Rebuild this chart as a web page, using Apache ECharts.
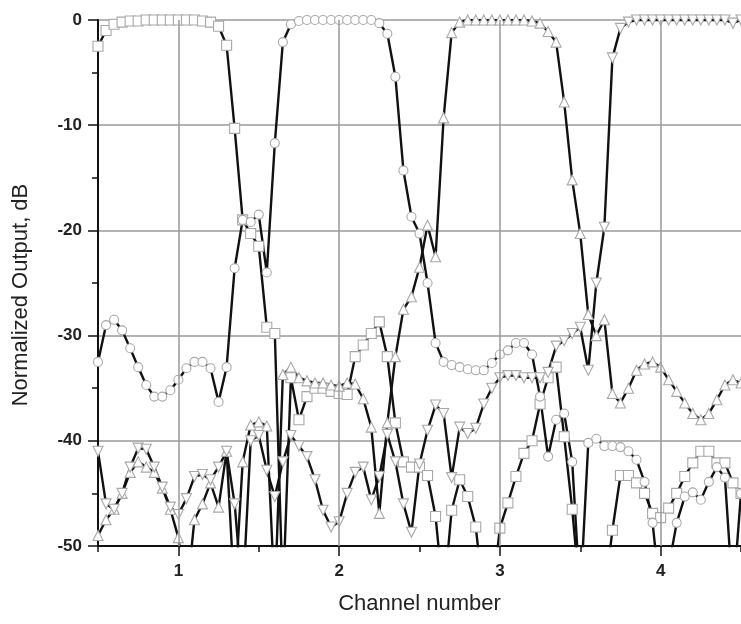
<!DOCTYPE html>
<html><head><meta charset="utf-8">
<script src="https://cdn.jsdelivr.net/npm/echarts@6/dist/echarts.min.js"></script>
<style>html,body{margin:0;padding:0;background:#fff}#c{width:741px;height:624px}</style>
</head><body><div id="c"></div>
<script>
// x sampling grid: channel number from 0.5 to 4.5, step 0.05
const xStart = 0.5, xStep = 0.05;

// Channel 1 (squares)
const ch1Square = [
 -2.5,-1.0,-0.4,-0.2,-0.1,-0.1,0,0,0,0,
 0,0,0,-0.1,-0.2,-0.6,-2.4,-10.3,-19.0,-20.3,
 -21.5,-29.2,-29.8,-55,-34,-38,-35.8,-35,-35,-35.3,
 -35.5,-35.6,-32,-30.9,-29.8,-28.7,-32,-38.3,-42,-42.5,
 -42.5,-43.3,-47.2,-55,-46.6,-43.7,-45.3,-48.2,-55,-55,
 -48.3,-45.9,-43.4,-41.2,-40,-36.5,-34,-33,-39.6,-46.5,
 -55,-55,-55,-55,-48.5,-43.3,-43.3,-44,-45,-46.9,
 -47.3,-46.4,-45,-43.4,-42.1,-41,-41,-42.1,-42.1,-44,
 -45
];
// Channel 2 (circles)
const ch2Circle = [
 -32.5,-29,-28.5,-29.5,-31.2,-33,-34.7,-35.8,-35.8,-35.2,
 -34.2,-33.1,-32.5,-32.5,-33.1,-36.3,-33,-23.6,-19,-19.2,
 -18.5,-24,-11.7,-2.1,-0.4,-0.1,0,0,0,0,
 0,0,0,0,0,-0.3,-1.3,-5.4,-14.3,-18.7,
 -20.3,-25,-30.7,-32.5,-32.8,-33,-33.2,-33.3,-33.3,-32.6,
 -31.8,-31.4,-30.7,-30.7,-31.8,-35.8,-41.5,-38,-37.4,-42,
 -55,-40.2,-39.8,-40.5,-40.5,-40.6,-41,-41.8,-43.9,-47.8,
 -55,-52,-47.8,-45.3,-44.9,-45.6,-43.9,-42.5,-43.5,-55,
 -45
];
// Channel 3 (triangles up)
const ch3TriUp = [
 -49,-47.5,-46.5,-45,-43,-42,-42.5,-43,-44.5,-46.5,
 -49.2,-55,-47.5,-46,-44,-46.3,-41,-55,-42,-38.5,
 -38.2,-38.6,-55,-33.7,-33,-34,-34.3,-34.5,-34.5,-34.7,
 -34.8,-34.5,-34.6,-36,-38.7,-46.9,-38.3,-32,-27.5,-26.3,
 -23.5,-19.5,-22.5,-9.3,-1.2,-0.2,0,0,0,0,
 0,0,0,0,-0.1,-0.3,-1.1,-2.1,-7.8,-15.2,
 -20.3,-28,-30,-28.5,-35.5,-36.4,-35,-33.3,-32.7,-32.5,
 -33,-34.2,-35.3,-36.4,-37.4,-38,-37.4,-36.1,-34.7,-34.2,
 -34.5
];
// Channel 4 (triangles down)
const ch4TriDown = [
 -41,-46,-46.5,-45,-42.5,-40.7,-40.8,-42.5,-44.4,-46.3,
 -47,-45.5,-43.4,-43.2,-43.7,-42.5,-41,-46,-55,-40,
 -39.5,-42.8,-45.3,-42,-39.5,-40.5,-41.5,-43.7,-46.6,-48.2,
 -47.7,-45,-43,-42.5,-45.6,-43.4,-39.4,-42,-46,-48.7,
 -42.2,-39,-36.6,-37.4,-43.5,-38.7,-39.3,-38.8,-36.5,-35,
 -34,-33.8,-33.8,-34,-34,-34,-33.5,-31,-30.5,-29.8,
 -29.2,-33.3,-25,-19.7,-3.6,-0.8,-0.2,0,0,0,
 0,0,0,0,0,0,0,0,0,-0.3,
 0
];

const xMajorTicks = [1, 2, 3, 4];
const xMinorTicks = [0.5, 1.5, 2.5, 3.5, 4.5];
const xLabel = 'Channel number';
const yLabel = 'Normalized Output, dB';

const toPairs = arr => arr.map((v, i) => [+(xStart + i * xStep).toFixed(2), v]);

const FONT = 'Liberation Sans, Arial, sans-serif';
const mk = (name, data, symbol, rotate) => ({
  name, type: 'line', data: toPairs(data),
  symbol, symbolSize: symbol === 'circle' ? 9 : 10, symbolRotate: rotate || 0,
  showAllSymbol: true, clip: true,
  lineStyle: { color: '#111', width: 2.4 },
  itemStyle: { color: '#fff', borderColor: '#a8a8a8', borderWidth: 1.1 },
  emphasis: { disabled: true }, animation: false, z: 3
});

const chart = echarts.init(document.getElementById('c'), null, { renderer: 'canvas' });
chart.setOption({
  animation: false,
  backgroundColor: '#fff',
  grid: { left: 98, top: 20, right: -8, bottom: 78, containLabel: false },
  xAxis: [
    {
      type: 'value', min: 0.5, max: 4.5, position: 'bottom',
      name: xLabel, nameLocation: 'middle', nameGap: 47,
      nameTextStyle: { fontFamily: FONT, fontSize: 22, color: '#222' },
      axisLine: { show: true, onZero: false, lineStyle: { color: '#111', width: 2 } },
      axisTick: { show: true, customValues: xMajorTicks, length: 10, lineStyle: { color: '#111', width: 1.5 } },
      axisLabel: { customValues: xMajorTicks, margin: 17, fontFamily: FONT, fontSize: 17, fontWeight: 'bold', color: '#222',
        formatter: v => (Math.abs(v - Math.round(v)) < 1e-6 ? String(Math.round(v)) : '') },
      splitLine: { show: false }
    },
    {
      type: 'value', min: 0.5, max: 4.5, position: 'bottom',
      axisLine: { show: false, onZero: false },
      axisTick: { show: true, customValues: xMinorTicks, length: 6, lineStyle: { color: '#111', width: 1.5 } },
      axisLabel: { show: false }, splitLine: { show: false }
    }
  ],
  yAxis: {
    type: 'value', min: -50, max: 0, interval: 10,
    name: yLabel, nameLocation: 'middle', nameGap: 66, nameRotate: 90,
    nameTextStyle: { fontFamily: FONT, fontSize: 22, color: '#222', padding: [0, 0, 0, -24] },
    axisLine: { show: true, onZero: false, lineStyle: { color: '#111', width: 2 } },
    axisTick: { show: true, length: 10, lineStyle: { color: '#111', width: 1.5 } },
    minorTick: { show: true, splitNumber: 2, length: 6, lineStyle: { color: '#111', width: 1.5 } },
    axisLabel: { margin: 16, fontFamily: FONT, fontSize: 17, fontWeight: 'bold', color: '#222' },
    splitLine: { show: true, lineStyle: { color: '#9a9a9a', width: 1.5 } }
  },
  series: [
    {
      type: 'line', data: [], silent: true, z: 1,
      markLine: {
        silent: true, symbol: ['none', 'none'], animation: false,
        label: { show: false },
        lineStyle: { color: '#9a9a9a', width: 1.5, type: 'solid' },
        emphasis: { disabled: true },
        data: xMajorTicks.map(v => ({ xAxis: v }))
      }
    },
    mk('Channel 1', ch1Square, 'rect'),
    mk('Channel 2', ch2Circle, 'circle'),
    mk('Channel 3', ch3TriUp, 'triangle'),
    mk('Channel 4', ch4TriDown, 'triangle', 180)
  ]
});
</script>
</body></html>
